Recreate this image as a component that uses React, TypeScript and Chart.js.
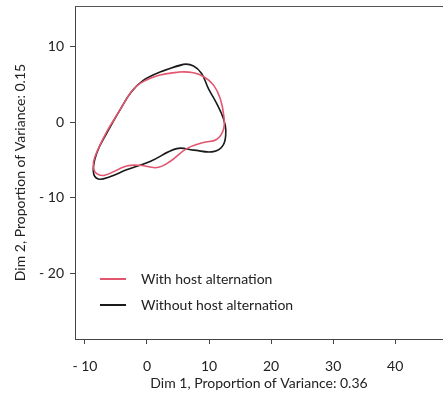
import React, { useEffect, useRef } from "react";
import { Chart, registerables } from "chart.js";

Chart.register(...registerables);

const withHost: [number, number][] = [
  [5.3, 6.6], [2.1, 6.2], [-1.1, 5.1], [-2.7, 3.8], [-4.35, 1.6], [-6.5, -1.3],
  [-8.4, -4.6], [-8.65, -5.9], [-8.1, -6.8], [-6.8, -7.0], [-3.3, -5.8], [-1.1, -5.7],
  [1.6, -6.0], [3.7, -5.2], [6.4, -3.5], [9.1, -2.7], [11.2, -2.3], [12.3, -1.05],
  [12.4, 0.7], [11.8, 3.1], [10.7, 4.9], [9.1, 6.0], [7.5, 6.5],
];

const withoutHost: [number, number][] = [
  [5.85, 7.6], [2.1, 6.6], [-0.6, 5.5], [-2.5, 4.0], [-4.35, 1.6], [-6.5, -1.5],
  [-8.1, -4.1], [-8.65, -6.5], [-7.85, -7.5], [-5.97, -7.2], [-3.3, -6.3], [0.5, -5.2],
  [4.8, -3.5], [7.5, -3.7], [10.7, -3.9], [12.3, -3.0], [12.7, -1.05], [12.3, 0.5],
  [11.2, 2.5], [9.9, 4.4], [8.8, 6.4], [7.5, 7.4],
];

const seriesLabels = ["With host alternation", "Without host alternation"];
const seriesColors = ["#e2566f", "#1a1a1a"];
const xTicks = [-10, 0, 10, 20, 30, 40];
const yTicks = [-20, -10, 0, 10];
const xTitle = "Dim 1, Proportion of Variance: 0.36";
const yTitle = "Dim 2, Proportion of Variance: 0.15";

const closeLoop = (pts: [number, number][]) =>
  [...pts, pts[0], pts[1]].map(([x, y]) => ({ x, y }));

const fmt = (v: number) => (v < 0 ? "- " + Math.abs(v) : String(v));

const FONT = "Lato, 'Open Sans', sans-serif";

const framePlugin = {
  id: "frameLegend",
  afterDraw(chart: any) {
    const { ctx, chartArea } = chart;
    ctx.save();
    ctx.strokeStyle = "#555";
    ctx.lineWidth = 1;
    ctx.beginPath();
    ctx.moveTo(chartArea.left, chartArea.top + 0.5);
    ctx.lineTo(chartArea.right, chartArea.top + 0.5);
    ctx.stroke();
    // legend
    const lx = chartArea.left + 25;
    const ly = chartArea.top + 273;
    chart.data.datasets.forEach((ds: any, i: number) => {
      const y = ly + i * 26;
      ctx.strokeStyle = ds.borderColor;
      ctx.lineWidth = 2;
      ctx.beginPath();
      ctx.moveTo(lx, y);
      ctx.lineTo(lx + 26, y);
      ctx.stroke();
      ctx.fillStyle = "#222";
      ctx.font = `14px ${FONT}`;
      ctx.textBaseline = "middle";
      ctx.textAlign = "left";
      ctx.fillText(ds.label, lx + 41, y);
    });
    ctx.restore();
  },
};

export default function App() {
  const ref = useRef<HTMLCanvasElement>(null);
  useEffect(() => {
    if (!ref.current) return;
    const chart = new Chart(ref.current, {
      type: "scatter",
      data: {
        datasets: [withHost, withoutHost].map((pts, i) => ({
          label: seriesLabels[i],
          data: closeLoop(pts),
          showLine: true,
          tension: 0.4,
          borderColor: seriesColors[i],
          backgroundColor: seriesColors[i],
          borderWidth: 1.6,
          pointRadius: 0,
          fill: false,
        })),
      },
      options: {
        animation: false,
        responsive: false,
        layout: { autoPadding: false, padding: { top: 6, right: 0, left: 0, bottom: 0 } },
        plugins: { legend: { display: false }, tooltip: { enabled: false } },
        scales: {
          x: {
            type: "linear",
            min: -11.6,
            max: 47.7,
            afterBuildTicks: (s: any) => {
              s.ticks = xTicks.map((v) => ({ value: v }));
            },
            afterFit: (s: any) => {
              s.height = 59;
              s.paddingLeft = 0;
              s.paddingRight = 0;
            },
            border: { display: true, color: "#444", width: 1 },
            grid: { display: true, drawOnChartArea: false, drawTicks: true, tickLength: 5, color: "#444" },
            ticks: { color: "#222", font: { family: FONT, size: 14 }, padding: 14, callback: (v: any) => fmt(Number(v)) },
            title: { display: true, text: xTitle, color: "#222", font: { family: FONT, size: 14 }, padding: { top: 0, bottom: 6 } },
          },
          y: {
            type: "linear",
            min: -28.6,
            max: 15.3,
            afterBuildTicks: (s: any) => {
              s.ticks = yTicks.map((v) => ({ value: v }));
            },
            afterFit: (s: any) => {
              s.width = 75;
              s.paddingTop = 0;
              s.paddingBottom = 0;
            },
            border: { display: true, color: "#444", width: 1 },
            grid: { display: true, drawOnChartArea: false, drawTicks: true, tickLength: 5, color: "#444" },
            ticks: { color: "#222", font: { family: FONT, size: 14 }, padding: 6, callback: (v: any) => fmt(Number(v)) },
            title: { display: true, text: yTitle, color: "#222", font: { family: FONT, size: 14 }, padding: { top: 12, bottom: 0 } },
          },
        },
      },
      plugins: [framePlugin],
    });
    return () => chart.destroy();
  }, []);
  return (
    <canvas
      ref={ref}
      width={443}
      height={398}
      style={{ position: "absolute", left: 0, top: 0, width: 443, height: 398 }}
    />
  );
}
